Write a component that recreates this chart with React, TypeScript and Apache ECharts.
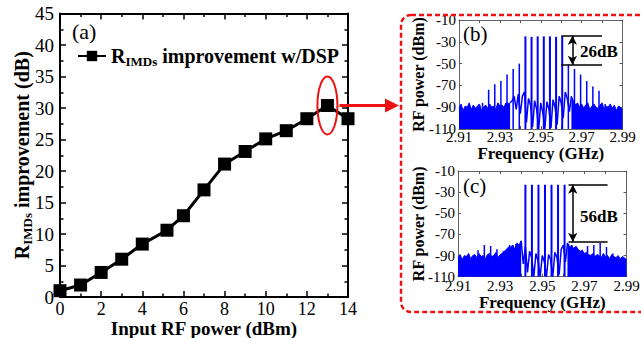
import React, { useEffect, useRef } from 'react';
import * as echarts from 'echarts';

// ---------- main chart (a) ----------
const inputPower = [0, 1, 2, 3, 4, 5.2, 6, 7, 8, 9, 10, 11, 12, 13, 14];
const improvement = [1.0, 1.9, 3.9, 6.0, 8.4, 10.6, 12.9, 17.0, 21.1, 23.1, 25.1, 26.4, 28.3, 30.4, 28.3];
const highlightPoint = [13, 30.4];

// ---------- spectra (b) and (c) ----------
const freqStartGHz = 2.91;
const freqStepMHz = 1; // noise samples every 1 MHz from 2.910 GHz
const noiseB = [
  -91, -87, -93, -89, -90, -86, -92, -88, -91, -89, -87, -93, -90, -88, -91, -87, -90, -89, -92, -86, -89, -88, -90, -86, -87,
  -86, -84, -80, -92, -78, -96, -80, -76, -104, -82, -88, -108, -84, -92, -110, -86, -95, -110, -85, -92, -109, -83, -90, -106, -80, -86, -100, -76, -82, -94, -80,
  -84, -88, -86, -90, -87, -91, -88, -86, -92, -89, -87, -90, -91, -88, -86, -92, -89, -90, -87, -91, -88, -93, -89, -90, -92,
];
const noiseC = [
  -92, -89, -94, -90, -91, -88, -93, -90, -89, -92, -88, -91, -90, -93, -89, -88, -91, -90, -87, -92, -89, -88, -86, -84, -82,
  -82, -80, -84, -78, -80, -76, -98, -82, -106, -86, -92, -110, -88, -95, -110, -90, -96, -110, -89, -94, -110, -87, -92, -108, -84, -80, -96, -78, -82, -80, -84,
  -81, -84, -86, -85, -88, -87, -89, -90, -88, -91, -89, -90, -92, -88, -91, -90, -93, -89, -91, -92, -90, -93, -91, -92, -94,
];
const splitB = [25, 55];
const splitC = [30, 52];

const toneFreqB = [2.9425, 2.9455, 2.9485, 2.9515, 2.9545, 2.9575, 2.9605];
const tonePeakB = [-25, -25.5, -25, -25, -25, -25.5, -25];
const spurFreqB = [2.9215, 2.9245, 2.9275, 2.9305, 2.9335, 2.9365, 2.9395, 2.9635, 2.9665, 2.9695, 2.9725, 2.9755, 2.9785, 2.9815];
const spurLevelB = [-86, -74, -69, -66, -60, -55, -50, -51, -55, -60, -66, -71, -75, -87];

const toneFreqC = [2.942, 2.9451, 2.9482, 2.9513, 2.9544, 2.9575, 2.9606];
const tonePeakC = [-23, -23, -23, -23, -23, -23, -23];
const spurFreqC = [2.9195, 2.9225, 2.9255, 2.9285, 2.9315, 2.9345, 2.9375, 2.9625, 2.9655, 2.9685, 2.9715, 2.9745, 2.9775, 2.9805, 2.9835];
const spurLevelC = [-85, -80, -81, -84, -86, -80, -79, -79, -82, -86, -81, -80, -78, -82, -88];

// annotation: [x1, x2, arrowX, top, bottom] (GHz, dBm)
const markB = [2.96, 2.98, 2.9655, -24.5, -51];
const markC = [2.9625, 2.981, 2.9645, -23, -77];
const markTextB = '26dB';
const markTextC = '56dB';

const FONT = 'Liberation Serif';
const BLUE = '#0000ff';
const RED = '#ee1111';
const DBM_OFFSET = 110; // inset y axis runs 0..100 for -110..-10 dBm
const toMHz = (f: number) => +((f - freqStartGHz) * 1000).toFixed(3);

function spectrumSeries(ai: number, noise: number[], split: number[], tf: number[], tp: number[], sf: number[], sl: number[], mark: number[]) {
  const pts = noise.map((v, i) => [i * freqStepMHz, v + DBM_OFFSET]);
  const base = {
    type: 'line', xAxisIndex: ai, yAxisIndex: ai, symbol: 'none', silent: true, clip: true,
    lineStyle: { color: BLUE, width: 1 },
  };
  const lines: any[] = [];
  tf.forEach((f, i) => lines.push([toMHz(f), tp[i] + DBM_OFFSET, 2]));
  sf.forEach((f, i) => lines.push([toMHz(f), sl[i] + DBM_OFFSET, 1.5]));
  const [x1, x2, xa, top, bot] = mark;
  return [
    { ...base, data: pts.slice(0, split[0] + 1), areaStyle: { color: BLUE, opacity: 1, origin: 'start' } },
    {
      ...base, data: pts.slice(split[0], split[1] + 1), lineStyle: { color: BLUE, width: 1.5 },
      markLine: {
        silent: true, symbol: 'none', animation: false, label: { show: false },
        lineStyle: { color: '#000', width: 1.5, type: 'solid' },
        emphasis: { disabled: true },
        data: [
          [{ coord: [toMHz(x1), top + DBM_OFFSET] }, { coord: [toMHz(x2), top + DBM_OFFSET] }],
          [{ coord: [toMHz(x1), bot + DBM_OFFSET] }, { coord: [toMHz(x2), bot + DBM_OFFSET] }],
          [
            { coord: [toMHz(xa), top + DBM_OFFSET], symbol: 'arrow', symbolSize: [7, 9] },
            { coord: [toMHz(xa), bot + DBM_OFFSET], symbol: 'arrow', symbolSize: [7, 9] },
          ],
        ],
      },
    },
    { ...base, data: pts.slice(split[1]), areaStyle: { color: BLUE, opacity: 1, origin: 'start' } },
    {
      type: 'custom', xAxisIndex: ai, yAxisIndex: ai, silent: true, clip: true,
      encode: { x: 0, y: 1 },
      data: lines,
      renderItem: (_p: any, api: any) => {
        const x = api.value(0);
        const p0 = api.coord([x, 0]);
        const p1 = api.coord([x, api.value(1)]);
        return {
          type: 'line',
          shape: { x1: p0[0], y1: p0[1], x2: p1[0], y2: p1[1] },
          style: { stroke: BLUE, lineWidth: api.value(2) },
        };
      },
    },
  ];
}

const mainTick = { show: true, inside: true, length: 6, lineStyle: { color: '#000', width: 1.5 } };
const mainMinor = { show: true, splitNumber: 2, length: 3.5, lineStyle: { color: '#000', width: 1.5 } };
const mainLine = { show: true, lineStyle: { color: '#000', width: 2 }, onZero: false };
const mainLabel = { fontFamily: FONT, fontSize: 19, color: '#000' };

const inTick = { show: true, inside: true, length: 3, lineStyle: { color: '#555', width: 1 } };
const inMinor = { show: true, splitNumber: 2, length: 3, lineStyle: { color: '#555', width: 1 } };
const inLine = { show: true, lineStyle: { color: '#666', width: 1 }, onZero: false };
const inLabel = { fontFamily: FONT, fontSize: 15, color: '#000' };
const freqFmt = (v: number) => ((2910 + v) / 1000).toFixed(2);
const dbmFmt = (v: number) => String(v - DBM_OFFSET);

const richMain = {
  r: { fontFamily: FONT, fontSize: 20, fontWeight: 'bold', color: '#000', lineHeight: 24 },
  s: { fontFamily: FONT, fontSize: 13, fontWeight: 'bold', color: '#000', lineHeight: 24, verticalAlign: 'bottom' },
};

function insetX(grid: number, gap: number, labelMargin: number) {
  return [
    {
      type: 'value', gridIndex: grid, min: 0, max: 80, interval: 20, position: 'bottom',
      axisLine: inLine, axisTick: inTick, minorTick: inMinor, splitLine: { show: false },
      axisLabel: { ...inLabel, margin: labelMargin, formatter: freqFmt },
      name: 'Frequency (GHz)', nameLocation: 'middle', nameGap: gap, nameMoveOverlap: false,
      nameTextStyle: { fontFamily: FONT, fontSize: 17, fontWeight: 'bold', color: '#000' },
    },
    {
      type: 'value', gridIndex: grid, min: 0, max: 80, interval: 20, position: 'top',
      axisLine: inLine, axisTick: inTick, minorTick: inMinor, splitLine: { show: false },
      axisLabel: { show: false },
    },
  ];
}
function insetY(grid: number, gap: number) {
  return [
    {
      type: 'value', gridIndex: grid, min: 0, max: 100, interval: 20, position: 'left',
      axisLine: inLine, axisTick: inTick, splitLine: { show: false },
      axisLabel: { ...inLabel, margin: 3, formatter: dbmFmt },
      name: 'RF power (dBm)', nameLocation: 'middle', nameGap: gap, nameRotate: 90, nameMoveOverlap: false,
      nameTextStyle: { fontFamily: FONT, fontSize: 16, fontWeight: 'bold', color: '#000' },
    },
    {
      type: 'value', gridIndex: grid, min: 0, max: 100, interval: 20, position: 'right',
      axisLine: inLine, axisTick: inTick, splitLine: { show: false },
      axisLabel: { show: false },
    },
  ];
}

export default function App() {
  const ref = useRef<HTMLDivElement>(null);
  useEffect(() => {
    if (!ref.current) return;
    const chart = echarts.init(ref.current, null, { renderer: 'svg' });
    const option: any = {
      animation: false,
      backgroundColor: '#fff',
      grid: [
        { left: 60, top: 13.5, width: 288, height: 283.5, containLabel: false, outerBoundsMode: 'none' },
        { left: 459, top: 20, width: 163.5, height: 109, containLabel: false, outerBoundsMode: 'none' },
        { left: 458, top: 171, width: 168.5, height: 105.7, containLabel: false, outerBoundsMode: 'none' },
      ],
      legend: {
        show: true, left: 72, top: 41, itemWidth: 28, itemHeight: 13,
        data: ['main'],
        formatter: () => '{r|R}{s|IMDs}{r| improvement w/DSP}',
        textStyle: { rich: richMain },
        selectedMode: false,
      },
      xAxis: [
        {
          type: 'value', gridIndex: 0, min: 0, max: 14, interval: 2, position: 'bottom',
          axisLine: mainLine, axisTick: mainTick, minorTick: mainMinor, splitLine: { show: false },
          axisLabel: { ...mainLabel, fontSize: 18, margin: 3 },
          name: 'Input RF power (dBm)', nameLocation: 'middle', nameGap: 22, nameMoveOverlap: false,
          nameTextStyle: { fontFamily: FONT, fontSize: 19, fontWeight: 'bold', color: '#000' },
        },
        {
          type: 'value', gridIndex: 0, min: 0, max: 14, interval: 2, position: 'top',
          axisLine: mainLine, axisTick: mainTick, minorTick: mainMinor, splitLine: { show: false },
          axisLabel: { show: false },
        },
        ...insetX(1, 16, 0),
        ...insetX(2, 17, 2),
      ],
      yAxis: [
        {
          type: 'value', gridIndex: 0, min: 0, max: 45, interval: 5, position: 'left',
          axisLine: mainLine, axisTick: mainTick, minorTick: mainMinor, splitLine: { show: false },
          axisLabel: { ...mainLabel, margin: 6 },
          name: '{r|R}{s|IMDs}{r| improvement (dB)}', nameLocation: 'middle', nameGap: 26, nameRotate: 90,
          nameMoveOverlap: false,
          nameTextStyle: { rich: richMain },
        },
        {
          type: 'value', gridIndex: 0, min: 0, max: 45, interval: 5, position: 'right',
          axisLine: mainLine, axisTick: mainTick, minorTick: mainMinor, splitLine: { show: false },
          axisLabel: { show: false },
        },
        ...insetY(1, 33),
        ...insetY(2, 32),
      ],
      series: [
        {
          name: 'main', type: 'line', xAxisIndex: 0, yAxisIndex: 0,
          data: inputPower.map((x, i) => [x, improvement[i]]),
          symbol: 'rect', symbolSize: 13,
          lineStyle: { color: '#000', width: 3 },
          itemStyle: { color: '#000' },
          z: 5,
        },
        ...spectrumSeries(2, noiseB, splitB, toneFreqB, tonePeakB, spurFreqB, spurLevelB, markB),
        ...spectrumSeries(4, noiseC, splitC, toneFreqC, tonePeakC, spurFreqC, spurLevelC, markC),
      ],
    };
    chart.setOption(option);

    const c = chart.convertToPixel({ xAxisIndex: 0, yAxisIndex: 0 }, highlightPoint) as number[];
    const cx = c[0], cy = c[1];
    chart.setOption({
      graphic: [
        { type: 'text', left: 72, top: 20, style: { text: '(a)', fontFamily: FONT, fontSize: 22, fill: '#000' } },
        { type: 'text', left: 463, top: 23, style: { text: '(b)', fontFamily: FONT, fontSize: 21, fill: '#000' } },
        { type: 'text', left: 463, top: 175, style: { text: '(c)', fontFamily: FONT, fontSize: 21, fill: '#000' } },
        { type: 'text', left: 580, top: 43, style: { text: markTextB, fontFamily: FONT, fontSize: 17, fontWeight: 'bold', fill: '#000' } },
        { type: 'text', left: 580, top: 208, style: { text: markTextC, fontFamily: FONT, fontSize: 17, fontWeight: 'bold', fill: '#000' } },
        {
          type: 'ellipse', shape: { cx: cx, cy: cy, rx: 10, ry: 29 },
          style: { fill: 'none', stroke: RED, lineWidth: 2 }, z: 10,
        },
        {
          type: 'line', shape: { x1: cx + 12, y1: cy, x2: 388, y2: cy },
          style: { stroke: RED, lineWidth: 3 }, z: 10,
        },
        {
          type: 'polygon', shape: { points: [[385, cy - 7], [399, cy], [385, cy + 7]] },
          style: { fill: RED }, z: 10,
        },
        {
          type: 'rect', shape: { x: 401, y: 15, width: 250, height: 297, r: 10 },
          style: { fill: 'none', stroke: RED, lineWidth: 2.5, lineDash: [5, 3] }, z: 10,
        },
      ],
    });
    return () => chart.dispose();
  }, []);
  return <div ref={ref} style={{ width: 641, height: 338, position: 'absolute', left: 0, top: 0 }} />;
}
